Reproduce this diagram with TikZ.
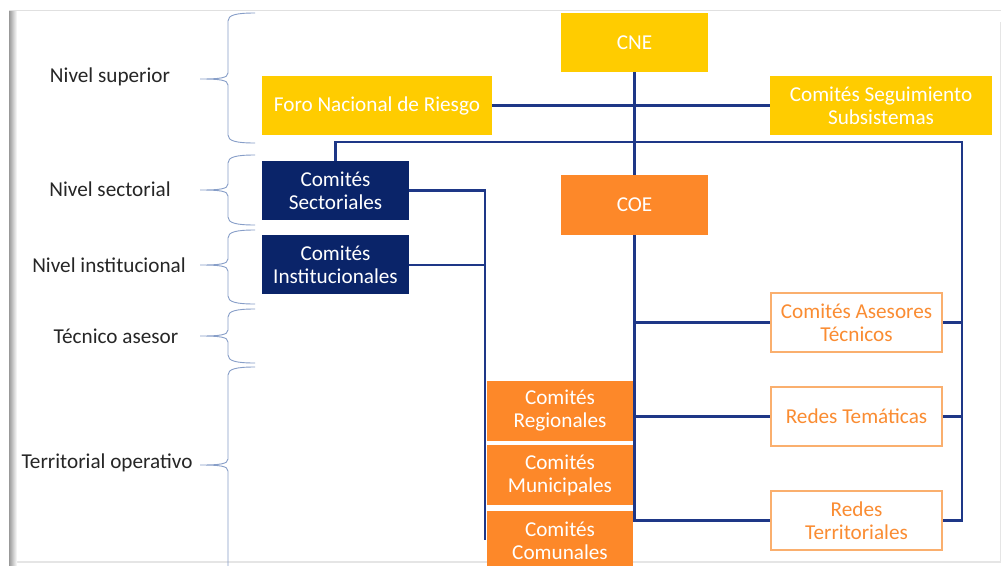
\documentclass[tikz,border=0pt]{standalone}
\usepackage{fontspec}
\setmainfont{Carlito}
\usepackage{tikz}
\usetikzlibrary{positioning,calc}
\definecolor{cneyellow}{RGB}{255,204,0}
\definecolor{coeorange}{RGB}{253,136,41}
\definecolor{edgeorange}{RGB}{250,175,110}
\definecolor{textorange}{RGB}{250,140,50}
\definecolor{sectnavy}{RGB}{10,36,105}
\definecolor{linkblue}{RGB}{30,55,135}
\definecolor{bracegray}{RGB}{135,158,200}
\tikzset{
    box/.style={minimum height=59pt, align=center, inner sep=0pt, font=\fontsize{21.2}{23}\selectfont},
    yellowbox/.style={box, fill=cneyellow, text=white},
    orangebox/.style={box, fill=coeorange, text=white, minimum width=146pt, minimum height=60pt},
    navybox/.style={box, fill=sectnavy, text=white, minimum width=147pt},
    outlinebox/.style={box, draw=edgeorange, line width=1.5pt, fill=white, text=textorange, minimum width=171pt},
    link/.style={draw=linkblue, line width=2.1pt},
    levelbrace/.style={draw=bracegray, line width=0.9pt},
    levellabel/.style={font=\fontsize{21.2}{23}\selectfont, text=black!85}
}

\begin{document}
\begin{tikzpicture}[x=1pt, y=-1pt]
    \path[use as bounding box, clip] (0,0) rectangle (1001,565);
    \fill[white] (0,0) rectangle (1001,565);

    % frame round the slide
    \draw[black!12, line width=1.5pt] (9,10.5) -- (1001,10.5);
    \draw[black!10] (1000,22) -- (1000,563);
    \draw[black!10, line width=2pt] (17,562) -- (1000,562);
    \shade[left color=black!40, right color=white] (9,11) rectangle (17,565);

    % levels
    \node[levellabel] (sup) at (110,77) {Nivel superior};
    \node[levellabel] (sec) at (110,189) {Nivel sectorial};
    \node[levellabel] (ins) at (109,265) {Nivel institucional};
    \node[levellabel] (tec) at (116,336) {Técnico asesor};
    \node[levellabel] (ter) at (107,463) {Territorial operativo};

    \foreach \ya/\ym/\yb in {13/79/143, 155/190/225, 230/265/304, 309/336/363, 367/465/640}
        \draw[levelbrace] (255,\ya) .. controls (236,\ya) and (228,\ya+2) .. (228,\ya+8)
            -- (228,\ym-6) .. controls (228,\ym-1) and (220,\ym) .. (200,\ym)
            .. controls (220,\ym) and (228,\ym+1) .. (228,\ym+6)
            -- (228,\yb-8) .. controls (228,\yb-2) and (236,\yb) .. (255,\yb);

    % boxes
    \node[yellowbox, minimum width=147pt] (cne) at (634.5,42.5) {CNE};
    \node[yellowbox, minimum width=230pt] (foro) at (377,105.5) {Foro Nacional de Riesgo};
    \node[yellowbox, minimum width=222pt] (seg) at (881,105.5) {Comités Seguimiento\\Subsistemas};
    \node[orangebox, minimum width=147pt] (coe) at (634.5,205) {COE};
    \node[navybox] (sect) at (335.5,190.5) {Comités\\Sectoriales};
    \node[navybox, below=15pt of sect] (inst) {Comités\\Institucionales};
    \node[outlinebox] (ases) at (856.5,322.5) {Comités Asesores\\Técnicos};
    \node[outlinebox] (tem) at (856.5,416.5) {Redes Temáticas};
    \node[outlinebox] (terr) at (856.5,520.5) {Redes\\Territoriales};
    \node[orangebox] (reg) at (560,411) {Comités\\Regionales};
    \node[orangebox, below=4pt of reg] (mun) {Comités\\Municipales};
    \node[orangebox, below=5pt of mun] (com) {Comités\\Comunales};

    % connectors
    \coordinate (rbus) at (962,142);
    \coordinate (lbus) at (485,540);
    \draw[link] (cne) -- (coe);
    \draw[link] (foro.east) -- (seg.west);
    \draw[link] (sect.north) |- (rbus) |- (terr.east);
    \draw[link] (ases.east) -- (ases.east -| rbus);
    \draw[link] (tem.east) -- (tem.east -| rbus);
    \draw[link] (sect.east) -| (lbus);
    \draw[link] (inst.east) -- (inst.east -| lbus);
    \draw[link] (coe.south) |- (terr.west);
    \draw[link] (coe.south |- ases.west) -- (ases.west);
    \draw[link] (coe.south |- tem.west) -- (tem.west);
\end{tikzpicture}
\end{document}
